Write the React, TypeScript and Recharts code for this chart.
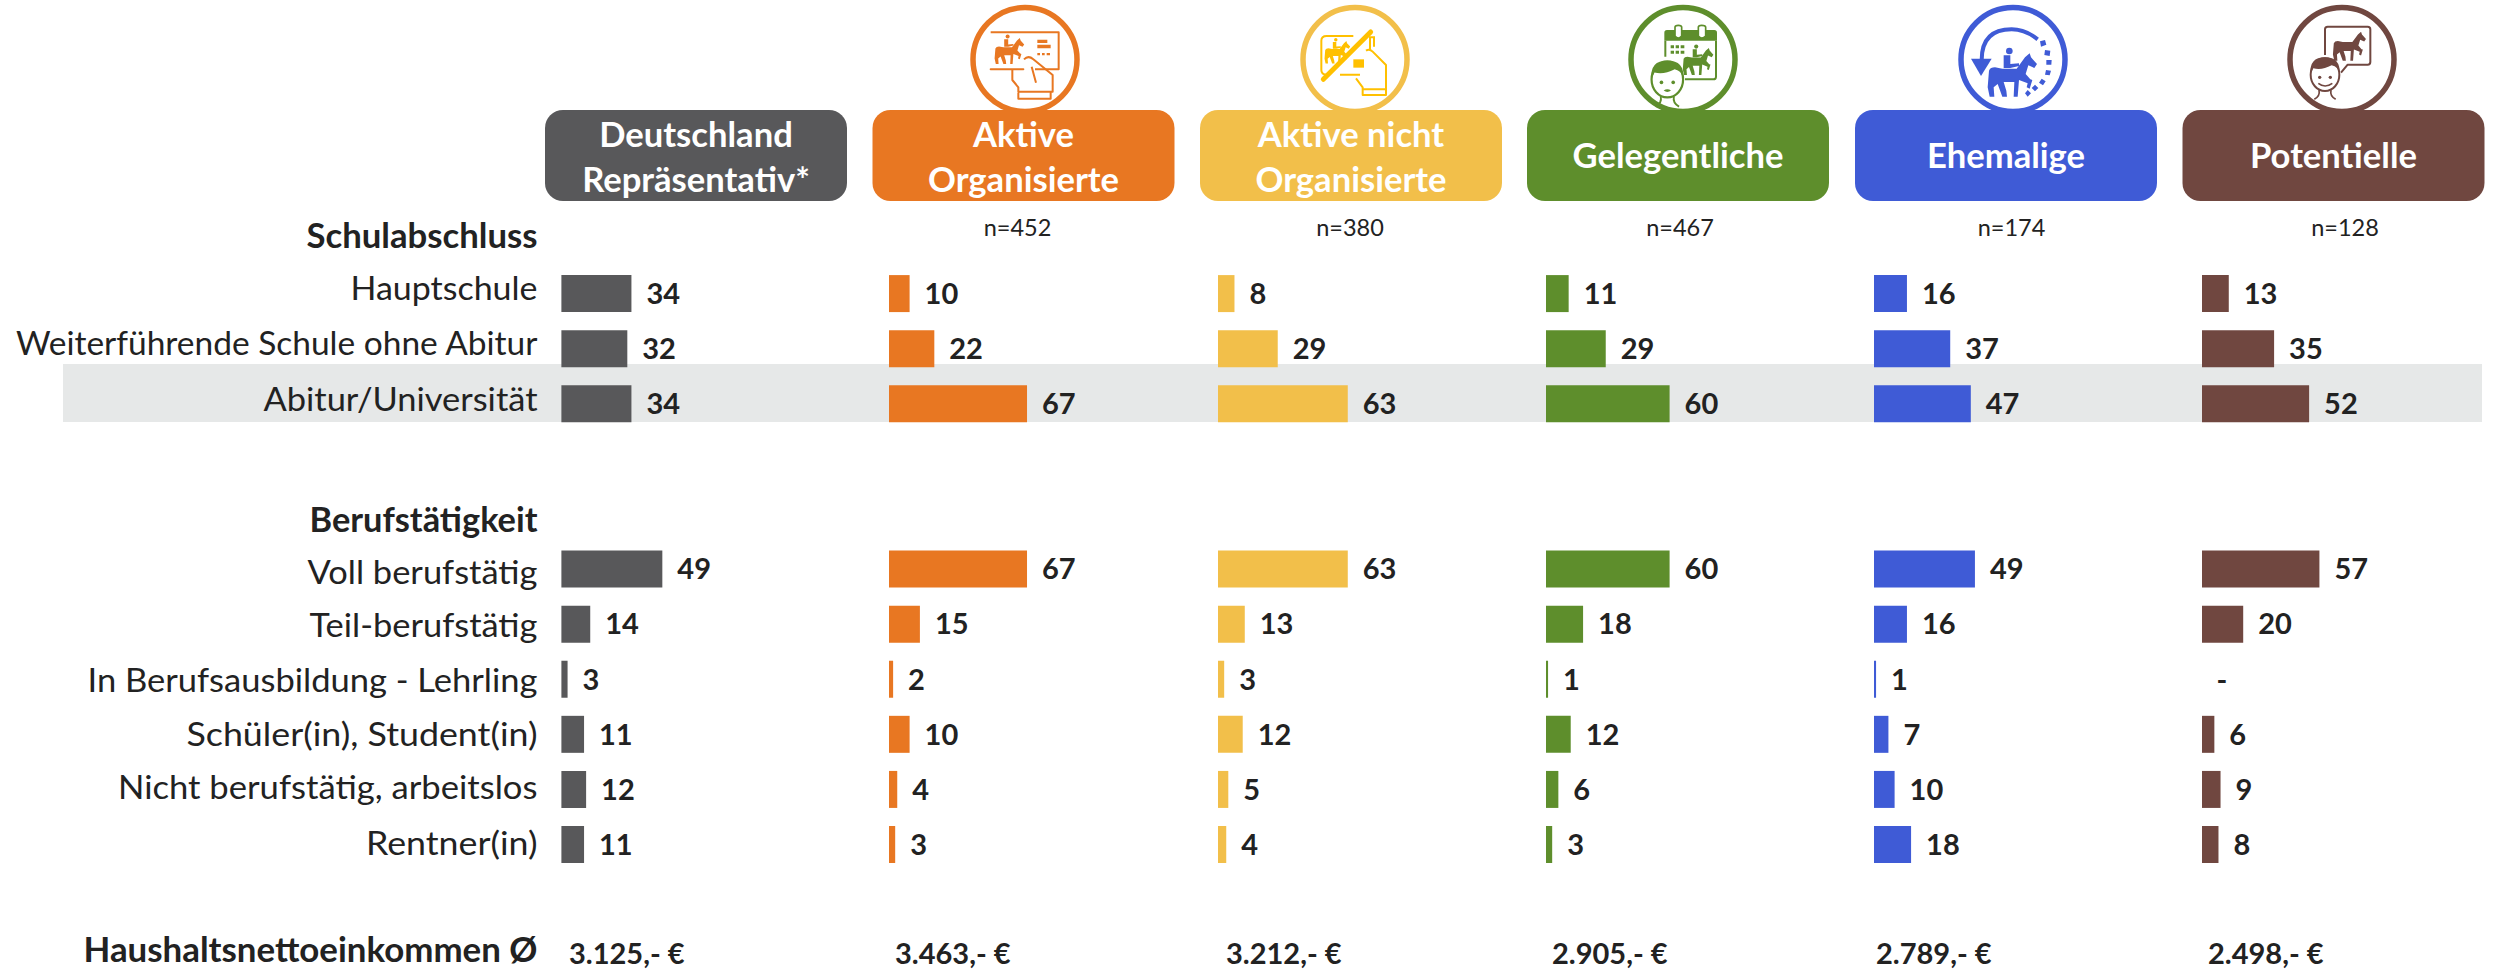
import React from 'react';
import { BarChart, Bar, XAxis, YAxis, LabelList } from 'recharts';

const rowLabels = ['Schulabschluss', 'Hauptschule', 'Weiterführende Schule ohne Abitur', 'Abitur/Universität', ' ', 'Berufstätigkeit', 'Voll berufstätig', 'Teil-berufstätig', 'In Berufsausbildung - Lehrling', 'Schüler(in), Student(in)', 'Nicht berufstätig, arbeitslos', 'Rentner(in)', '  ', 'Haushaltsnettoeinkommen Ø'];
const boldRows = ['Schulabschluss', 'Berufstätigkeit', 'Haushaltsnettoeinkommen Ø'];

const deutschland = [null, 34, 32, 34, null, null, 49, 14, 3, 11, 12, 11, null, null];
const aktiveOrganisierte = [null, 10, 22, 67, null, null, 67, 15, 2, 10, 4, 3, null, null];
const aktiveNichtOrganisierte = [null, 8, 29, 63, null, null, 63, 13, 3, 12, 5, 4, null, null];
const gelegentliche = [null, 11, 29, 60, null, null, 60, 18, 1, 12, 6, 3, null, null];
const ehemalige = [null, 16, 37, 47, null, null, 49, 16, 1, 7, 10, 18, null, null];
const potentielle = [null, 13, 35, 52, null, null, 57, 20, null, 6, 9, 8, null, null];

const headers = [['Deutschland', 'Repräsentativ*'], ['Aktive', 'Organisierte'], ['Aktive nicht', 'Organisierte'], ['Gelegentliche'], ['Ehemalige'], ['Potentielle']];
const sampleSizes = ['', 'n=452', 'n=380', 'n=467', 'n=174', 'n=128'];
const incomes = ['3.125,- €', '3.463,- €', '3.212,- €', '2.905,- €', '2.789,- €', '2.498,- €'];
const noValueMark = '-';

const colors = ['#58585A', '#E87722', '#F2BF4A', '#5E8E2C', '#3F5BD6', '#704740'];
const seriesValues = [deutschland, aktiveOrganisierte, aktiveNichtOrganisierte, gelegentliche, ehemalige, potentielle];

// layout
const FONT = 'Lato, Carlito, sans-serif';
const TEXT = '#222222';
const barX = [561.4, 889, 1218, 1545.7, 1874, 2201.7];
const boxX = [545, 872.5, 1200, 1527, 1855, 2182.5];
const BOX_W = 302;
const nX = [0, 1017.5, 1350, 1680, 2011.5, 2345];
const incomeX = [569, 895, 1226, 1552, 1876, 2208];
const circleX = [0, 1025, 1355, 1683, 2013, 2342];
const iconOrigin = [0, 960, 1290, 1615, 1945, 2275];
const PX_PER_UNIT = 2.06;
const PLOT_W = 290;
const TOP = 210.9;
const H = 771.3;
const labelDy = [-4, -7, -7, -6, 0, 4, 2, 0, 0, -1, -3, -3, 0, -6];
const labelFitW = [231, 187, 521.5, 274, 0, 228, 230, 228, 450, 351, 419.5, 171.5, 0, 454];

const RowTick = (props: any) => {
  const { y, payload, index } = props;
  const bold = boldRows.includes(payload.value);
  const fit = labelFitW[index];
  return (
    <text x={537.5} y={y + labelDy[index]} textAnchor="end" dominantBaseline="central" fontFamily={FONT}
      fontSize={bold ? 34.6 : 33.4} fontWeight={bold ? 700 : 400} fill={TEXT}
      {...(fit ? { textLength: fit, lengthAdjust: 'spacingAndGlyphs' } : {})}>
      {payload.value}
    </text>
  );
};

const Horse = ({ rider = true }: { rider?: boolean }) => (
  <g>
    <path d="M128 262 L132 212 Q136 202 150 202 L172 206 L215 206 L240 172 L254 160 L258 172 L276 192 L268 204 L250 196 L242 222 L256 238 L262 240 L254 266 L245 262 L248 250 L222 240 L218 290 L206 290 L208 246 L176 246 L184 272 L186 290 L172 290 L158 252 L146 262 L148 290 L134 290 Z" />
    {rider && <circle cx={193} cy={153} r={10} />}
    {rider && <path d="M176 166 L196 166 L196 192 L222 190 L222 198 L196 204 L176 204 Z" />}
  </g>
);

const Face = ({ fill }: { fill: string }) => (
  <g>
    <path d="M132 270 Q136 288 118 298 M168 270 Q164 288 182 298" fill="none" stroke={fill} strokeWidth={5} />
    <ellipse cx={150} cy={224} rx={43} ry={49} fill="#fff" stroke={fill} strokeWidth={6} />
    <path d="M107 222 Q102 172 150 172 Q198 172 193 222 Q190 200 170 196 Q140 212 115 205 Z" fill={fill} />
    <circle cx={134} cy={232} r={5} fill={fill} />
    <circle cx={166} cy={232} r={5} fill={fill} />
  </g>
);

const iconArt = [
  null,
  // card in hand
  <g key="a" fill="#E87722" stroke="none">
    <path d="M92 97 H296 V208 H225 M190 208 H92 Z" fill="none" stroke="#E87722" strokeWidth={6} strokeLinejoin="round" />
    <g transform="translate(27 18) scale(0.6)"><Horse /></g>
    <path d="M232 119 H262 V129 H232 Z M232 134 H272 V145 H232 Z M232 159 H240 V166 H232 Z M246 159 H254 V166 H246 Z M260 159 H270 V166 H260 Z" />
    <path d="M192 178 Q205 165 220 178 L278 225 V275 H175 V262 L157 240 V210 M215 200 L228 248 M175 278 V296 H272 V275" fill="none" stroke="#E87722" strokeWidth={6} strokeLinejoin="round" />
  </g>,
  // crossed-out card
  <g key="b" fill="#FFC000" stroke="none">
    <path d="M190 108 H110 Q94 108 94 122 V210 Q94 224 110 224 H120 M150 224 H210 M240 150 V112 H252 V140" fill="none" stroke="#FFC000" strokeWidth={6} />
    <g transform="translate(37 40) scale(0.52)"><Horse /></g>
    <path d="M190 178 H222 V203 H190 Z" />
    <path d="M228 152 Q238 145 248 155 L288 195 V285 H218 V262 L198 235 M218 268 H288" fill="none" stroke="#FFC000" strokeWidth={6} strokeLinejoin="round" />
    <path d="M100 238 L242 96" stroke="#FFC000" strokeWidth={15} strokeLinecap="round" />
  </g>,
  // calendar and face
  <g key="c" fill="#5E8E2C" stroke="none">
    <path d="M148 98 Q148 90 156 90 H180 V108 Q190 120 200 108 V90 H250 V108 Q260 120 272 108 V90 H298 Q306 90 306 98 V122 H148 Z" />
    <path d="M151 122 V170 M303 122 V230 Q303 238 295 238 H210" fill="none" stroke="#5E8E2C" strokeWidth={6} />
    <path d="M180 82 Q180 76 190 76 Q200 76 200 82 V108 Q190 120 180 108 Z M250 82 Q250 76 260 76 Q272 76 272 82 V108 Q260 120 250 108 Z" fill="none" stroke="#5E8E2C" strokeWidth={5} />
    <path d="M167 136 H177 V145 H167 Z M182 136 H192 V145 H182 Z M197 136 H208 V145 H197 Z M167 152 H177 V161 H167 Z M182 152 H192 V161 H182 Z M197 152 H208 V161 H197 Z" />
    <g transform="translate(124 45) scale(0.62)"><Horse /></g>
    <g transform="translate(-8 -8) scale(1.1)">
      <Face fill="#5E8E2C" />
      <path d="M140 254 Q150 262 160 254 Q150 248 140 254 Z" />
    </g>
  </g>,
  // lapsed rider
  <g key="d" fill="#3F5BD6" stroke="none">
    <path d="M110 180 Q110 88 200 88 Q240 88 278 118" fill="none" stroke="#3F5BD6" strokeWidth={12} />
    <path d="M78 176 H140 L108 228 Z" />
    <Horse />
    <path d="M285 124 L300 120 L304 134 L288 140 Z M300 150 L316 152 L314 168 L298 165 Z M304 180 L320 180 L319 194 L304 194 Z M303 210 L318 212 L314 226 L300 224 Z M290 236 L302 244 L294 256 L282 248 Z M270 254 L280 264 L270 274 L260 264 Z M248 270 L258 280 L248 290 L240 280 Z" />
  </g>,
  // speech bubble
  <g key="e" fill="#704740" stroke="none">
    <path d="M150 165 V88 Q150 80 158 80 H278 Q286 80 286 88 V186 Q286 194 278 194 H218 L198 218" fill="none" stroke="#704740" strokeWidth={6} strokeLinejoin="round" />
    <g transform="translate(88 -12) scale(0.67)"><Horse rider={false} /></g>
    <Face fill="#704740" />
    <path d="M130 250 Q150 266 172 250" fill="none" stroke="#704740" strokeWidth={5} />
  </g>,
];

const makeRows = (values: (number | null)[]) =>
  rowLabels.map((row, i) => ({ row, value: values[i] }));

const labelText = (v: any) => (v === null || v === undefined ? '' : String(v));

const Column = ({ i }: { i: number }) => {
  const first = i === 0;
  const left = first ? 0 : barX[i];
  const axisW = first ? barX[0] : 0;
  return (
    <div style={{ position: 'absolute', left, top: TOP }}>
      <BarChart width={axisW + PLOT_W} height={H} layout="vertical" data={makeRows(seriesValues[i])}
        margin={{ top: 0, right: 0, bottom: 0, left: 0 }} barCategoryGap={0}>
        <XAxis type="number" hide domain={[0, PLOT_W / PX_PER_UNIT]} />
        <YAxis type="category" dataKey="row" hide={!first} width={axisW} axisLine={false} tickLine={false}
          interval={0} tick={<RowTick />} />
        <Bar dataKey="value" fill={colors[i]} barSize={37} isAnimationActive={false}>
          <LabelList dataKey="value" position="right" offset={15} formatter={labelText}
            fontFamily={FONT} fontSize={29} fontWeight={700} fill={TEXT} />
        </Bar>
      </BarChart>
    </div>
  );
};

export default function App() {
  return (
    <div style={{ position: 'fixed', left: 0, top: 0, width: 2503, height: 971, overflow: 'hidden', background: '#fff' }}>
      <svg width={2503} height={971} style={{ position: 'absolute', left: 0, top: 0 }}>
        <rect x={63} y={364} width={2419} height={58} fill="#E6E8E8" />
        {colors.map((c, i) => i > 0 && (
          <g key={c}>
            <circle cx={circleX[i]} cy={59.5} r={52} fill="#fff" stroke={c} strokeWidth={5.5} />
            <g transform={`translate(${iconOrigin[i]} 0) scale(${1 / 3})`}>{iconArt[i]}</g>
          </g>
        ))}
        {colors.map((c, i) => (
          <g key={c + 'box'}>
            <rect x={boxX[i]} y={110} width={BOX_W} height={91} rx={18} fill={c} />
            {headers[i].map((line, k) => (
              <text key={line} x={boxX[i] + BOX_W / 2} y={headers[i].length === 2 ? 133.5 + k * 45 : 154.5}
                textAnchor="middle" dominantBaseline="central" fontFamily={FONT} fontSize={34.6} fontWeight={700} fill="#fff">
                {line}
              </text>
            ))}
            {sampleSizes[i] && (
              <text x={nX[i]} y={227} textAnchor="middle" dominantBaseline="central" fontFamily={FONT} fontSize={23.5} fill={TEXT}>
                {sampleSizes[i]}
              </text>
            )}
            <text x={incomeX[i]} y={952} dominantBaseline="central" fontFamily={FONT} fontSize={29} fontWeight={700} fill={TEXT}>
              {incomes[i]}
            </text>
          </g>
        ))}
        <text x={2222} y={678} textAnchor="middle" dominantBaseline="central" fontFamily={FONT} fontSize={29} fontWeight={700} fill={TEXT}>
          {noValueMark}
        </text>
      </svg>
      {colors.map((c, i) => <Column key={c} i={i} />)}
    </div>
  );
}
